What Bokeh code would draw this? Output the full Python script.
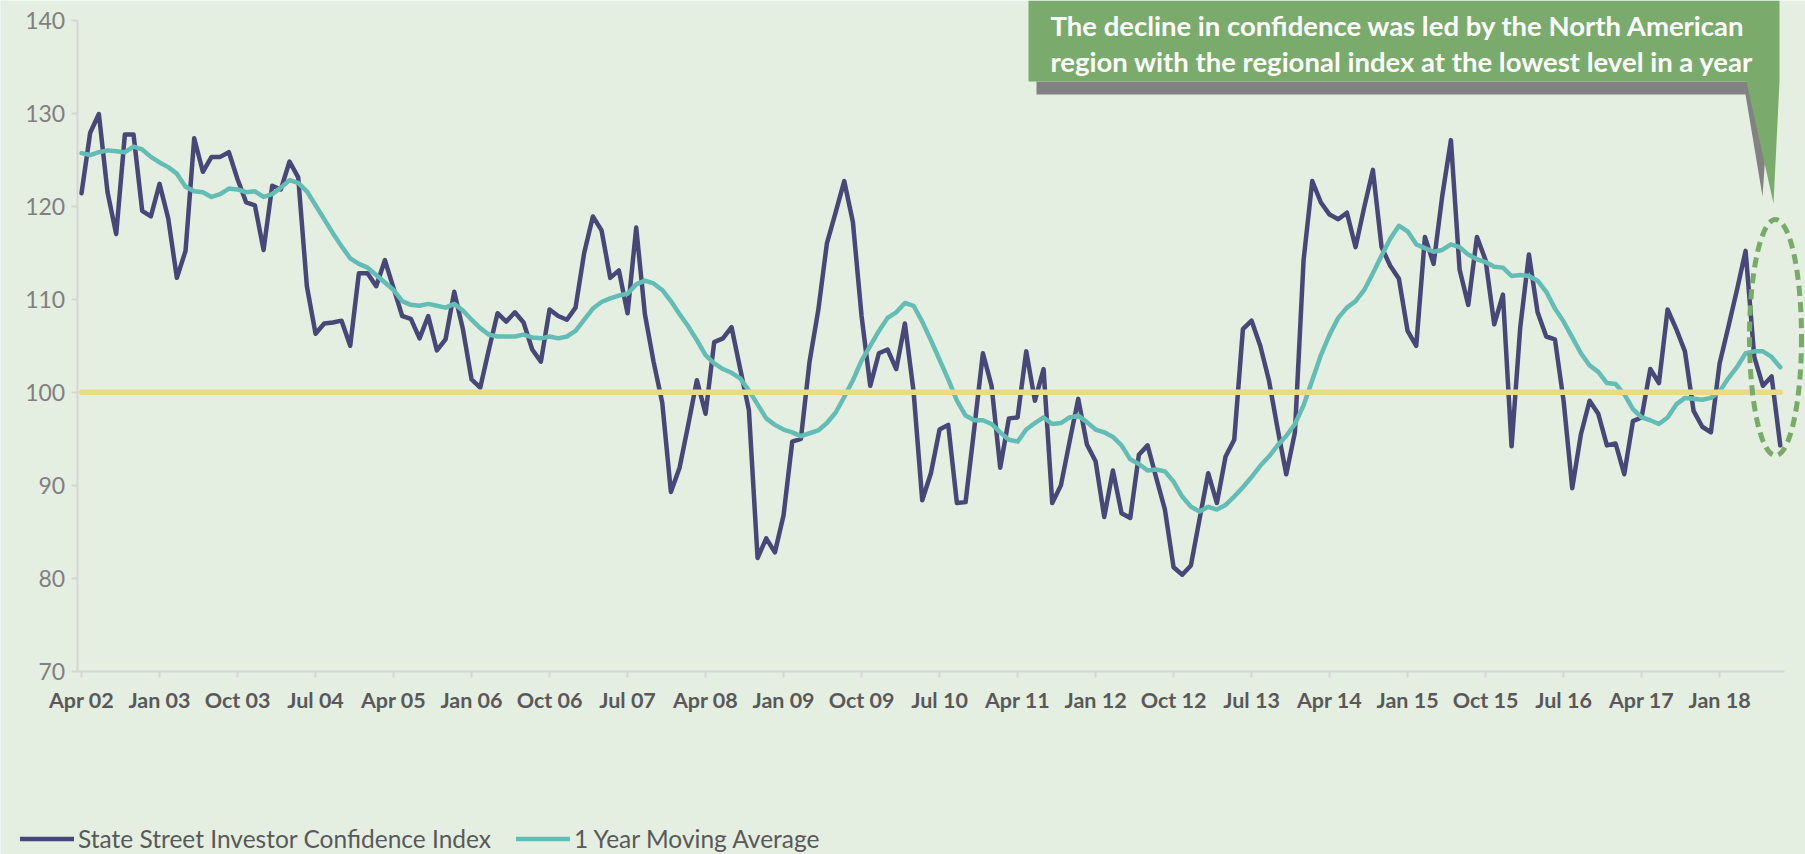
from bokeh.plotting import figure
from bokeh.models import Range1d, FixedTicker, Legend, LegendItem, Label
from bokeh.embed import file_html
from bokeh.resources import INLINE

# ---------------- data ----------------
tick_labels = ["Apr 02", "Jan 03", "Oct 03", "Jul 04", "Apr 05", "Jan 06", "Oct 06",
               "Jul 07", "Apr 08", "Jan 09", "Oct 09", "Jul 10", "Apr 11", "Jan 12",
               "Oct 12", "Jul 13", "Apr 14", "Jan 15", "Oct 15", "Jul 16", "Apr 17",
               "Jan 18"]
tick_every = 9  # months between labels

ici = [121.4, 127.9, 129.9, 121.5, 117.0, 127.7, 127.7, 119.5, 118.9, 122.4,
       118.7, 112.3, 115.2, 127.3, 123.7, 125.3, 125.3, 125.8, 122.9, 120.4,
       120.1, 115.3, 122.2, 121.8, 124.8, 123.1, 111.4, 106.3, 107.4, 107.5,
       107.7, 105.0, 112.8, 112.8, 111.4, 114.2, 111.2, 108.2, 107.9, 105.8,
       108.2, 104.5, 105.7, 110.8, 106.8, 101.4, 100.5, 104.6, 108.5, 107.6,
       108.6, 107.5, 104.6, 103.3, 108.9, 108.2, 107.8, 109.1, 115.0, 118.9,
       117.4, 112.3, 113.1, 108.5, 117.7, 108.4, 103.3, 98.9, 89.3, 91.9,
       96.5, 101.3, 97.7, 105.4, 105.8, 107.0, 102.5, 98.1, 82.2, 84.3,
       82.8, 86.8, 94.7, 95.0, 103.3, 108.8, 116.0, 119.3, 122.7, 118.3,
       108.2, 100.7, 104.2, 104.6, 102.5, 107.4, 100.1, 88.4, 91.3, 96.0,
       96.5, 88.1, 88.2, 96.1, 104.2, 100.7, 91.9, 97.2, 97.3, 104.4,
       99.1, 102.5, 88.1, 90.0, 94.7, 99.3, 94.4, 92.6, 86.6, 91.6,
       87.0, 86.5, 93.3, 94.3, 90.8, 87.4, 81.2, 80.4, 81.4, 86.4,
       91.3, 88.1, 93.1, 94.9, 106.8, 107.7, 105.0, 101.3, 96.1, 91.2,
       95.7, 114.2, 122.7, 120.4, 119.1, 118.6, 119.3, 115.6, 119.9, 123.9,
       115.6, 113.6, 112.2, 106.6, 105.0, 116.7, 113.8, 121.1, 127.1, 113.2,
       109.4, 116.7, 114.2, 107.3, 110.5, 94.2, 107.0, 114.8, 108.6, 106.0,
       105.7, 99.1, 89.7, 95.5, 99.1, 97.7, 94.3, 94.5, 91.2, 96.9,
       97.3, 102.5, 101.0, 108.9, 106.8, 104.4, 98.0, 96.3, 95.7, 103.1,
       107.0, 111.0, 115.2, 103.8, 100.7, 101.7, 94.3]

moving_avg = [125.7, 125.5, 125.8, 126.0, 125.9, 125.8, 126.4, 126.1, 125.3, 124.7,
              124.2, 123.5, 122.1, 121.6, 121.5, 121.0, 121.3, 121.9, 121.8, 121.5,
              121.6, 121.0, 121.3, 122.0, 122.8, 122.5, 121.6, 120.1, 118.6, 117.1,
              115.7, 114.4, 113.8, 113.4, 112.6, 111.8, 111.0, 109.8, 109.4, 109.3,
              109.5, 109.3, 109.1, 109.5, 108.8, 107.8, 106.9, 106.2, 106.0, 106.0,
              106.0, 106.2, 105.9, 105.8, 106.0, 105.8, 106.0, 106.6, 107.8, 109.0,
              109.7, 110.1, 110.4, 110.6, 111.6, 112.0, 111.7, 111.0, 109.8, 108.4,
              107.1, 105.6, 104.0, 103.1, 102.5, 102.1, 101.5, 100.2, 98.7, 97.2,
              96.5, 96.0, 95.7, 95.3, 95.6, 95.9, 96.7, 97.8, 99.5, 101.3,
              103.4, 105.0, 106.6, 108.0, 108.6, 109.6, 109.3, 107.6, 105.6, 103.5,
              101.4, 99.1, 97.5, 97.0, 97.0, 96.6, 95.7, 94.9, 94.7, 96.0,
              96.7, 97.3, 96.6, 96.7, 97.3, 97.5, 96.8, 96.0, 95.7, 95.2,
              94.3, 92.8, 92.3, 91.6, 91.7, 91.5, 90.4, 88.8, 87.7, 87.2,
              87.7, 87.4, 87.9, 88.8, 89.8, 90.9, 92.1, 93.1, 94.3, 95.3,
              96.6, 98.6, 101.3, 104.0, 106.2, 108.0, 109.1, 109.8, 111.0, 112.8,
              114.7, 116.5, 117.9, 117.3, 115.9, 115.5, 115.1, 115.3, 115.9, 115.6,
              114.8, 114.3, 114.0, 113.5, 113.4, 112.5, 112.6, 112.5, 112.0, 110.8,
              109.0, 107.6, 105.9, 104.2, 102.9, 102.2, 101.0, 100.9, 99.8, 98.2,
              97.3, 97.0, 96.6, 97.3, 98.7, 99.4, 99.3, 99.2, 99.4, 100.1,
              101.5, 102.7, 104.2, 104.4, 104.4, 103.8, 102.7]

baseline = 100
y_ticks = [70, 80, 90, 100, 110, 120, 130, 140]
series_names = ["State Street Investor Confidence Index", "1 Year Moving Average"]
callout_lines = ["The decline in confidence was led by the North American",
                 "region with the regional index at the lowest level in a year"]

month_index = list(range(len(ici)))

# ---------------- styling / layout ----------------
BG = "#E4EEE1"
NAVY = "#474877"
TEAL = "#63BDB4"
GOLD = "#E9D98A"
GREEN = "#7AAB6D"
SHADOW = "#828282"
AXIS = "#D5D5D5"

W, H = 1805, 854
AX_LEFT_PX = 76.7     # page x of the value axis
AX_BOTTOM_PX = 671.0  # page y of the category axis (value 70)
PX_MONTH = 8.667
PX_UNIT = 9.306


def xd(px):
    # page pixel -> month coordinate
    return -0.5 + (px - AX_LEFT_PX) / PX_MONTH


def yd(py):
    # page pixel -> index coordinate
    return y_ticks[0] + (AX_BOTTOM_PX - py) / PX_UNIT


p = figure(width=W, height=H, output_backend="svg", toolbar_location=None,
           x_range=Range1d(xd(0), xd(W)), y_range=Range1d(yd(H), yd(0)),
           min_border_left=0, min_border_right=0, min_border_top=0,
           min_border_bottom=0, background_fill_color=BG,
           border_fill_color=BG, outline_line_color=None)
p.xgrid.visible = False
p.ygrid.visible = False

n = len(ici)

# lines
r_ici = p.line(month_index, ici, line_color=NAVY, line_width=4.5,
               line_join="round", line_cap="round")
r_ma = p.line(month_index, moving_avg, line_color=TEAL, line_width=4.5,
              line_join="round", line_cap="round")
p.line([month_index[0], month_index[-1]], [baseline, baseline], line_color=GOLD,
       line_width=5.5, line_cap="round")

# axes (placed at fixed data locations inside the full-canvas frame)
tick_pos = [i * tick_every for i in range(len(tick_labels))]
p.xaxis.fixed_location = y_ticks[0]
p.xaxis.ticker = FixedTicker(ticks=tick_pos)
p.xaxis.major_label_overrides = {t: l for t, l in zip(tick_pos, tick_labels)}
p.xaxis.bounds = (-0.5, n - 0.5)
p.xaxis.axis_line_color = AXIS
p.xaxis.axis_line_width = 2
p.xaxis.major_tick_line_color = AXIS
p.xaxis.major_tick_line_width = 2
p.xaxis.major_tick_in = 0
p.xaxis.major_tick_out = 6
p.xaxis.minor_tick_line_color = None
p.xaxis.major_label_standoff = 9
p.xaxis.major_label_text_font = "Lato"
p.xaxis.major_label_text_font_style = "bold"
p.xaxis.major_label_text_font_size = "21.5px"
p.xaxis.major_label_text_color = "#595959"

p.yaxis.fixed_location = -0.5
p.yaxis.ticker = FixedTicker(ticks=y_ticks)
p.yaxis.bounds = (y_ticks[0], y_ticks[-1])
p.yaxis.axis_line_color = AXIS
p.yaxis.axis_line_width = 2
p.yaxis.major_tick_line_color = AXIS
p.yaxis.major_tick_line_width = 2
p.yaxis.major_tick_in = 0
p.yaxis.major_tick_out = 6
p.yaxis.minor_tick_line_color = None
p.yaxis.major_label_standoff = 6
p.yaxis.major_label_text_font = "Lato"
p.yaxis.major_label_text_font_size = "23px"
p.yaxis.major_label_text_color = "#808080"

# callout (shadow + box + pointer)
p.patch([xd(v) for v in [1036, 1036, 1745, 1762, 1770]],
        [yd(v) for v in [81, 94, 94, 196, 81]], color=SHADOW, line_color=None)
p.patch([xd(v) for v in [1028, 1028, 1746, 1773, 1779, 1779]],
        [yd(v) for v in [0, 81, 81, 203, 81, 0]], color=GREEN, line_color=None)
for k, txt in enumerate(callout_lines):
    p.add_layout(Label(x=xd(1050), y=yd(25 + 36 * k), text=txt,
                       text_font="Lato", text_font_style="bold",
                       text_font_size="27.5px", text_color="white",
                       text_baseline="middle", text_align="left"))

# dashed ellipse around the latest readings
p.ellipse(x=[xd(1775)], y=[yd(337)], width=52 / PX_MONTH, height=236 / PX_UNIT,
          fill_color=None, line_color="#78AB69", line_width=5,
          line_dash="10 6")

legend = Legend(items=[LegendItem(label=series_names[0], renderers=[r_ici]),
                       LegendItem(label=series_names[1], renderers=[r_ma])],
                location=(20, 1), orientation="horizontal",
                label_text_font="Lato", label_text_font_size="24.5px",
                label_text_color="#595959", glyph_width=54, glyph_height=25,
                label_height=25, label_standoff=4, spacing=25, padding=0,
                margin=0, background_fill_alpha=0, border_line_color=None)
p.add_layout(legend)

open("out.html", "w").write(file_html(p, INLINE))
